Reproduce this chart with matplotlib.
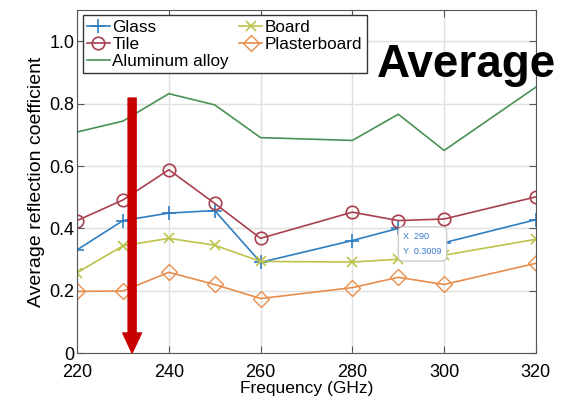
import matplotlib
matplotlib.use("Agg")
import matplotlib.pyplot as plt

plt.rcParams['font.family'] = ['Liberation Sans', 'DejaVu Sans']

freq = [220, 230, 240, 250, 260, 280, 290, 300, 320]
glass = [0.331, 0.425, 0.449, 0.457, 0.291, 0.361, 0.400, 0.354, 0.428]
tile = [0.425, 0.491, 0.588, 0.480, 0.368, 0.452, 0.425, 0.430, 0.501]
aluminum = [0.709, 0.744, 0.832, 0.796, 0.691, 0.682, 0.766, 0.650, 0.853]
board = [0.258, 0.344, 0.368, 0.346, 0.294, 0.292, 0.3009, 0.314, 0.365]
plaster = [0.198, 0.199, 0.259, 0.220, 0.175, 0.210, 0.243, 0.220, 0.288]

fig = plt.figure(figsize=(5.75, 4.04), dpi=100)
ax = fig.add_axes([0.134, 0.126, 0.798, 0.849])

l_glass, = ax.plot(freq, glass, color='#2f7fc1', marker='+', markersize=10,
                   markeredgewidth=1.2, linewidth=1.2, label='Glass')
l_tile, = ax.plot(freq, tile, color='#a8404f', marker='o', markersize=9,
                  markerfacecolor='none', markeredgewidth=1.2, linewidth=1.2, label='Tile')
l_alu, = ax.plot(freq, aluminum, color='#4a9156', linewidth=1.2, label='Aluminum alloy')
l_board, = ax.plot(freq, board, color='#bcc24a', marker='x', markersize=7,
                   markeredgewidth=1.2, linewidth=1.2, label='Board')
l_plaster, = ax.plot(freq, plaster, color='#e98d4c', marker='D', markersize=8,
                     markerfacecolor='none', markeredgewidth=1.0, linewidth=1.2,
                     label='Plasterboard')

ax.set_xlim(220, 320)
ax.set_ylim(0, 1.1)
ax.set_xticks([220, 240, 260, 280, 300, 320])
ax.set_yticks([0, 0.2, 0.4, 0.6, 0.8, 1.0])
ax.set_yticklabels(['0', '0.2', '0.4', '0.6', '0.8', '1.0'])
ax.tick_params(direction='in', top=True, right=True, labelsize=13, length=5,
               color='#555555')
ax.tick_params(axis='x', pad=8)
ax.tick_params(axis='y', pad=2)
ax.grid(True, color='#e0e0e0', linewidth=1)
for s in ax.spines.values():
    s.set_color('#555555')
ax.set_xlabel('Frequency (GHz)', fontsize=12.5, labelpad=0)
ax.set_ylabel('Average reflection coefficient', fontsize=14, labelpad=3)

leg = ax.legend(handles=[l_glass, l_tile, l_alu, l_board, l_plaster], ncol=2,
                loc='upper left', bbox_to_anchor=(0.012, 0.985), fontsize=12.3,
                handlelength=1.35, handletextpad=0.15, columnspacing=0.6,
                labelspacing=0.12, borderpad=0.25, fancybox=False, framealpha=1,
                borderaxespad=0)
leg.get_frame().set_edgecolor('#333333')
leg.get_frame().set_linewidth(1.0)

# data tip
ax.text(291.1, 0.35, 'X  290\nY  0.3009', fontsize=6.5, color='#3a7ad0',
        va='center', ha='left', linespacing=1.9,
        bbox=dict(boxstyle='round,pad=0.55', fc='white', ec='#cccccc', lw=1))

# red arrow
ax.annotate('', xy=(232, 0.0), xytext=(232, 0.818),
            arrowprops=dict(width=5.8, headwidth=13.5, headlength=14.5,
                            color='#c80000', shrink=0),
            annotation_clip=False)

fig.text(0.656, 0.809, 'Average', fontsize=33, fontweight='bold', color='black',
         va='baseline')

fig.savefig('out.png', dpi=100)
